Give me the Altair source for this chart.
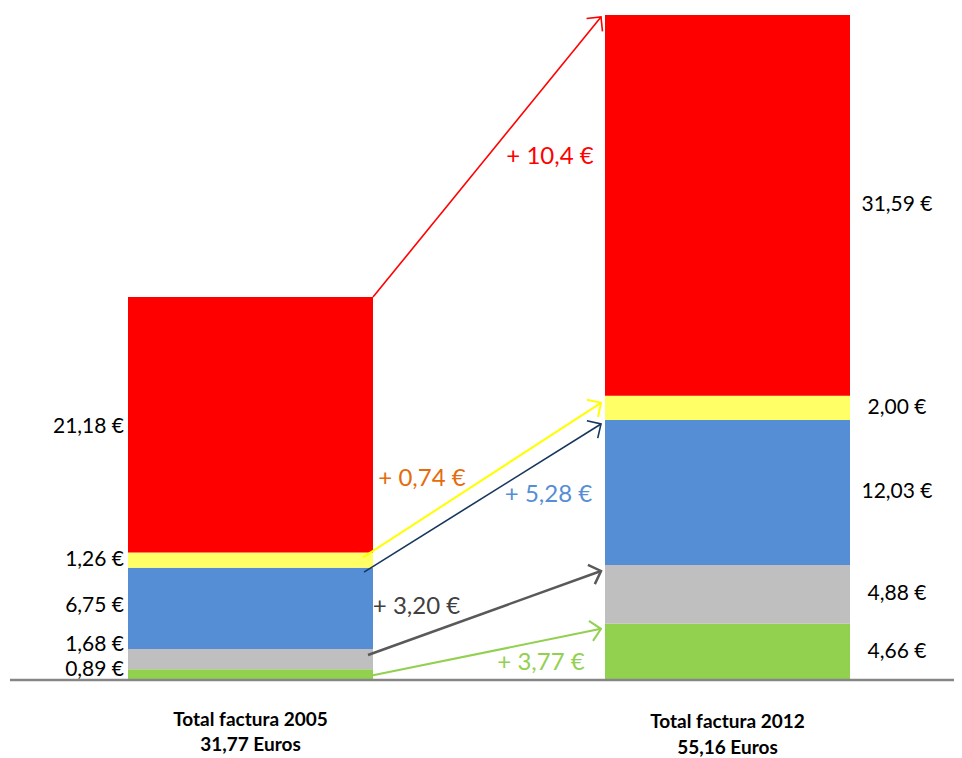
import math
import altair as alt
import pandas as pd

# ---------------- data ----------------
segments = ["Verde", "Gris", "Azul", "Amarillo", "Rojo"]  # bottom -> top
years = ["2005", "2012"]
values_2005 = [0.89, 1.68, 6.75, 1.26, 21.18]
values_2012 = [4.66, 4.88, 12.03, 2.00, 31.59]
totals = [31.77, 55.16]
diff_labels = ["+ 3,77 €", "+ 3,20 €", "+ 5,28 €", "+ 0,74 €", "+ 10,4 €"]
bottom_line1 = ["Total factura 2005", "Total factura 2012"]

# ---------------- styles ----------------
bar_colors = ["#92D050", "#BFBFBF", "#558ED5", "#FFFF66", "#FF0000"]
arrow_colors = ["#92D050", "#595959", "#17375E", "#FFFF00", "#FF0000"]
arrow_widths = [2, 2.5, 1.6, 2, 1.6]
diff_colors = ["#92D050", "#404040", "#558ED5", "#E46C0A", "#FF0000"]
FONT = "Lato"

# ---------------- layout ----------------
W, H = 946, 750
PXX = 245.0                 # px per x unit (bar width = 1 unit)
PXY = 665.0 / 55.16         # px per euro
LEFT_PX = 120               # plot-left to first bar
BASE_PX = 672               # plot-top to baseline
x_dom = [-LEFT_PX / PXX, (W - LEFT_PX) / PXX]
y_dom = [-(H - BASE_PX) / PXY, BASE_PX / PXY]
bar_x = [(0.0, 1.0), (477 / PXX, 477 / PXX + 1.0)]

fmt = lambda v: f"{v:.2f}".replace(".", ",") + " €"

rows = []
for yi, vals in enumerate([values_2005, values_2012]):
    cum = 0.0
    for si, v in enumerate(vals):
        rows.append(dict(year=years[yi], seg=segments[si], y0=cum, y1=cum + v,
                         x0=bar_x[yi][0], x1=bar_x[yi][1], color=bar_colors[si],
                         label=fmt(v), center=cum + v / 2))
        cum += v
bars = pd.DataFrame(rows)

# labels left of 2005 bar (small nudges upward in px to avoid overlap)
nudge_2005 = [5, 14, 2, 0, -2]
lab05 = bars[bars.year == "2005"].copy()
lab05["ly"] = lab05["center"].values + [n / PXY for n in nudge_2005]
lab12 = bars[bars.year == "2012"].copy()

# arrows
tops05 = bars[bars.year == "2005"]["y1"].values
tops12 = bars[bars.year == "2012"]["y1"].values
start_inset_px = [0, 5, 9, 10, 0]
start_drop_px = [6, 6, 4.5, 5, 0]
end_drop_px = [5, 6, 4, 7, 2]
label_off_x = [54, -68, 66, -60, 63]
label_off_y = [11, -6, -3, -1, 0]
arows = []
for i in range(5):
    xs = bar_x[0][1] - start_inset_px[i] / PXX
    ys = tops05[i] - start_drop_px[i] / PXY
    xe = bar_x[1][0] - 4 / PXX
    ye = tops12[i] - end_drop_px[i] / PXY
    dxp = (xe - xs) * PXX
    dyp = (ye - ys) * PXY
    theta = math.degrees(math.atan2(dyp, dxp))
    arows.append(dict(seg=segments[i], xs=xs, ys=ys, xe=xe, ye=ye,
                      color=arrow_colors[i], sw=arrow_widths[i], angle=360 - theta,
                      label=diff_labels[i], lcolor=diff_colors[i],
                      lx=(xs + xe) / 2 + label_off_x[i] / PXX,
                      ly=(ys + ye) / 2 - label_off_y[i] / PXY))
arrows = pd.DataFrame(arows)

bottom = pd.DataFrame([
    dict(x=(bar_x[i][0] + bar_x[i][1]) / 2, y=-off / PXY, t=txt)
    for i, (l1, tot, offs) in enumerate(zip(bottom_line1, totals, [(40, 65), (42, 68)]))
    for off, txt in zip(offs, [l1, f"{tot:.2f}".replace(".", ",") + " Euros"])
])

X = lambda f: alt.X(f, type="quantitative", axis=None,
                    scale=alt.Scale(domain=x_dom, nice=False, zero=False))
Y = lambda f: alt.Y(f, type="quantitative", axis=None,
                    scale=alt.Scale(domain=y_dom, nice=False, zero=False))

bar_layer = alt.Chart(bars).mark_rect().encode(
    x=X("x0"), x2="x1", y=Y("y0"), y2="y1",
    color=alt.Color("color:N", scale=None))

baseline = alt.Chart(pd.DataFrame({"v": [0]})).mark_rule(
    color="#868686", strokeWidth=2.5).encode(
    y=Y("v"), x=alt.value(2), x2=alt.value(W))

arrow_lines = alt.Chart(arrows).mark_rule().encode(
    x=X("xs"), y=Y("ys"), x2="xe", y2="ye",
    color=alt.Color("color:N", scale=None),
    strokeWidth=alt.StrokeWidth("sw:Q", scale=None))

arrow_heads = alt.Chart(arrows).mark_point(
    shape="M-1,-1L0,0L-1,1", filled=False, size=420, opacity=1).encode(
    x=X("xe"), y=Y("ye"),
    angle=alt.Angle("angle:Q", scale=None),
    color=alt.Color("color:N", scale=None),
    strokeWidth=alt.StrokeWidth("sw:Q", scale=None))

diff_text = alt.Chart(arrows).mark_text(
    font=FONT, fontSize=24, baseline="middle", align="center").encode(
    x=X("lx"), y=Y("ly"), text="label:N",
    color=alt.Color("lcolor:N", scale=None))

left_text = alt.Chart(lab05).mark_text(
    font=FONT, fontSize=21, baseline="middle", align="right", dx=-4,
    color="#000000").encode(x=X("x0"), y=Y("ly"), text="label:N")

right_text = alt.Chart(lab12).mark_text(
    font=FONT, fontSize=21, baseline="middle", align="center", dx=47,
    color="#000000").encode(x=X("x1"), y=Y("center"), text="label:N")

bottom_text = alt.Chart(bottom).mark_text(
    font=FONT, fontSize=19, fontWeight="bold", baseline="middle",
    align="center", color="#000000").encode(x=X("x"), y=Y("y"), text="t:N")

chart = alt.layer(
    bar_layer, baseline, arrow_lines, arrow_heads,
    diff_text, left_text, right_text, bottom_text
).properties(
    width=W, height=H, padding=0,
    autosize=alt.AutoSizeParams(type="none")
).configure_view(stroke=None)

chart.save("out.html", embed_options={"renderer": "svg", "actions": False})
